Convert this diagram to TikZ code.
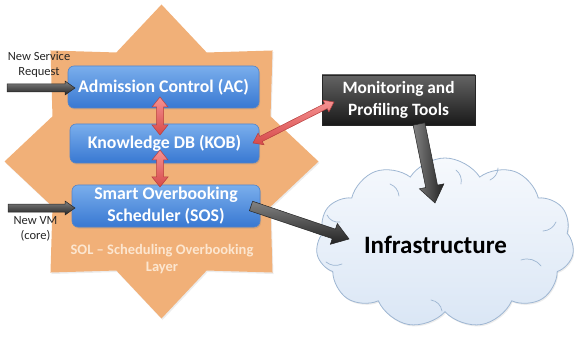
\documentclass[tikz,border=0pt]{standalone}
\usepackage{fontspec}
\setmainfont{Carlito}
\usetikzlibrary{shapes.symbols,calc,shadows}

\definecolor{starfill}{RGB}{241,176,120}
\definecolor{boxtop}{RGB}{122,174,236}
\definecolor{boxbot}{RGB}{56,120,210}
\definecolor{boxedge}{RGB}{84,132,200}
\definecolor{graytop}{RGB}{130,130,130}
\definecolor{graybot}{RGB}{35,35,35}
\definecolor{tooltop}{RGB}{100,100,100}
\definecolor{toolbot}{RGB}{25,25,25}
\definecolor{redtop}{RGB}{246,146,146}
\definecolor{redbot}{RGB}{214,74,74}
\definecolor{rededge}{RGB}{182,62,62}
\definecolor{cloudtop}{RGB}{246,249,253}
\definecolor{cloudbot}{RGB}{218,230,245}
\definecolor{cloudedge}{RGB}{158,182,210}
\definecolor{soltext}{RGB}{252,230,208}

\tikzset{
  bluebox/.style={rounded corners=6pt, draw=boxedge, line width=0.6pt,
    top color=boxtop, bottom color=boxbot, text=white, align=center,
    inner sep=0pt, font=\bfseries\fontsize{17.8}{22}\selectfont,
    drop shadow={opacity=0.25, shadow xshift=1pt, shadow yshift=-1.5pt}},
  toolbox/.style={draw=black!85, line width=0.6pt, top color=tooltop,
    bottom color=toolbot, text=white, align=center, inner sep=0pt,
    font=\bfseries\fontsize{17.3}{22}\selectfont,
    drop shadow={opacity=0.3, shadow xshift=1pt, shadow yshift=-1.5pt}},
  smalllabel/.style={align=center, inner sep=0pt, text=black!85,
    font=\fontsize{12.5}{15}\selectfont},
  grayarrow/.style={draw=black!85, line width=0.5pt, line join=miter,
    top color=graytop, bottom color=graybot},
  downarrow/.style={draw=black!85, line width=0.5pt, line join=miter,
    left color=graytop, right color=graybot},
  redarrow/.style={draw=rededge, line width=0.5pt, line join=miter,
    top color=redtop, bottom color=redbot},
  puffline/.style={draw=cloudedge, line width=0.7pt, line cap=round},
}

% block arrow from #2 to #3: [style]{tail}{tip}{shaft half}{head half}{head length}
\newcommand{\onearrow}[6][]{%
  \coordinate (ahb) at ($(#3)!#6!(#2)$);
  \path[#1] ($(#2)!#4!90:(#3)$) -- ($(ahb)!#4!90:(#3)$)
    -- ($(ahb)!#5!90:(#3)$) -- (#3) -- ($(ahb)!#5!-90:(#3)$)
    -- ($(ahb)!#4!-90:(#3)$) -- ($(#2)!#4!-90:(#3)$) -- cycle;}
% block arrow with heads at both ends
\newcommand{\twoarrow}[6][]{%
  \coordinate (aha) at ($(#2)!#6!(#3)$);
  \coordinate (ahb) at ($(#3)!#6!(#2)$);
  \path[#1] (#2) -- ($(aha)!#5!90:(#3)$) -- ($(aha)!#4!90:(#3)$)
    -- ($(ahb)!#4!90:(#3)$) -- ($(ahb)!#5!90:(#3)$) -- (#3)
    -- ($(ahb)!#5!-90:(#3)$) -- ($(ahb)!#4!-90:(#3)$)
    -- ($(aha)!#4!-90:(#3)$) -- ($(aha)!#5!-90:(#3)$) -- cycle;}

\begin{document}
\begin{tikzpicture}[x=1pt, y=-1pt]
\useasboundingbox (0,0) rectangle (574,337);

% eight-pointed star behind the scheduling layer
\coordinate (starc) at (161.5,161.5);
\fill[starfill, drop shadow={opacity=0.15, shadow xshift=1pt, shadow yshift=-1.5pt}]
  ($(starc)+(0:157)$)
  \foreach \k in {0,...,7}{
    -- ($(starc)+({\k*45+22.5}:118)$) -- ($(starc)+({\k*45+45}:157)$)
  } -- cycle;

% layer components
\node[bluebox, minimum width=191pt, minimum height=42pt] (ac) at (163.5,87)
  {Admission Control (AC)};
\node[bluebox, minimum width=189pt, minimum height=39pt] (kob) at (164.5,143.5)
  {Knowledge DB (KOB)};
\node[bluebox, minimum width=188pt, minimum height=42pt] (sos) at (166,206)
  {Smart Overbooking\\Scheduler (SOS)};

\node[align=center, inner sep=0pt, text=soltext,
  font=\bfseries\fontsize{14.5}{17}\selectfont] (sol) at (162,259.5)
  {SOL -- Scheduling Overbooking\\Layer};

% monitoring tools
\node[toolbox, minimum width=153pt, minimum height=50pt] (mon) at (398.5,100)
  {Monitoring and\\Profiling Tools};

% infrastructure cloud
\node[cloud, cloud puffs=11, cloud puff arc=115, aspect=1.55,
  draw=cloudedge, line width=0.8pt, top color=cloudtop, bottom color=cloudbot,
  minimum width=258pt, minimum height=170pt, inner sep=0pt,
  drop shadow={opacity=0.15, shadow xshift=1pt, shadow yshift=-1.5pt}]
  (infra) at (445,243) {};
% short creases where the puffs meet
\draw[puffline] (327,215) to[bend right=35] (340,222);
\draw[puffline] (390,184) to[bend left=30] (399,196);
\draw[puffline] (456,170) to[bend left=30] (461,184);
\draw[puffline] (498,168) to[bend left=30] (490,180);
\draw[puffline] (556,222) to[bend left=30] (543,231);
\draw[puffline] (521,260) to[bend left=35] (541,266);
\draw[puffline] (431,300) to[bend left=35] (442,311);
\draw[puffline] (326,262) to[bend right=30] (342,264);

\node[inner sep=0pt, font=\bfseries\fontsize{25}{28}\selectfont] (infratext)
  at (435.5,245) {Infrastructure};

% external inputs
\node[smalllabel] (newreq) at (39,64.5) {New Service\\Request};
\node[smalllabel] (newvm) at (35.5,228.5) {New VM\\(core)};

\coordinate (reqtail) at (7,88);
\coordinate (reqtip) at (75,88);
\coordinate (vmtail) at (8,208);
\coordinate (vmtip) at (75,208);
\onearrow[grayarrow]{reqtail}{reqtip}{4pt}{7pt}{10pt}
\onearrow[grayarrow]{vmtail}{vmtip}{4pt}{7pt}{10pt}

% links between components
\coordinate (ackob1) at (160,97);
\coordinate (ackob2) at (160,135);
\coordinate (kobsos1) at (160,150);
\coordinate (kobsos2) at (160,187);
\twoarrow[redarrow]{ackob1}{ackob2}{3.5pt}{8pt}{10pt}
\twoarrow[redarrow]{kobsos1}{kobsos2}{3.5pt}{8pt}{10pt}

\coordinate (kobmon1) at (253,143);
\coordinate (kobmon2) at (334,102);
\twoarrow[redarrow]{kobmon1}{kobmon2}{2.8pt}{6.5pt}{9pt}

\coordinate (montail) at (419,124);
\coordinate (montip) at (435,203);
\onearrow[downarrow]{montail}{montip}{6pt}{12.5pt}{17pt}

\coordinate (sostail) at (251,206);
\coordinate (sostip) at (349,239);
\onearrow[grayarrow]{sostail}{sostip}{5pt}{11pt}{16pt}
\end{tikzpicture}
\end{document}
